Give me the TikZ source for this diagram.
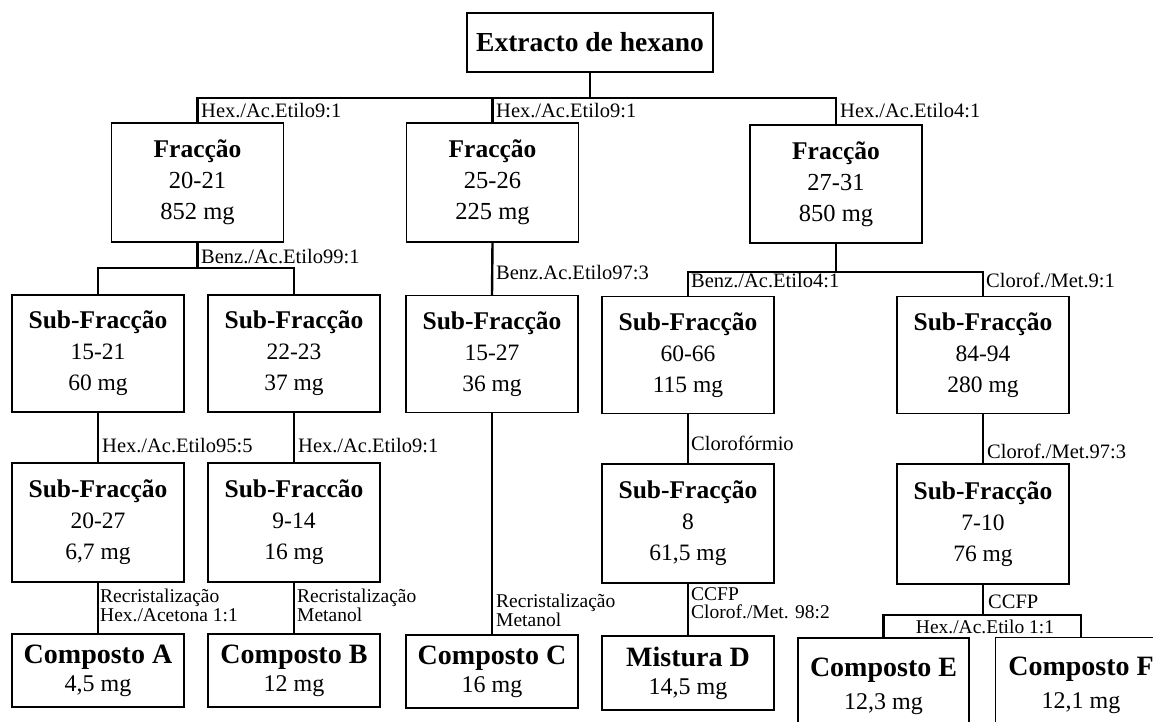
\documentclass[tikz,border=0pt]{standalone}
\usepackage{fontspec}
\setmainfont{Liberation Serif}
\begin{document}
\tikzset{
  box/.style={draw, line width=1.2pt, inner sep=0pt, align=center},
  rowa/.style={box, minimum width=172pt, minimum height=119pt, font=\fontsize{24.5}{31}\selectfont},
  rowb/.style={box, minimum width=172pt, minimum height=117pt, font=\fontsize{23.5}{31}\selectfont},
  fin/.style={box, minimum width=172pt, minimum height=73pt, font=\fontsize{24}{28}\selectfont},
  finb/.style={box, minimum width=171pt, minimum height=96pt, font=\fontsize{24}{33}\selectfont},
  conn/.style={line width=2.4pt},
  lab/.style={inner sep=0pt, anchor=base west, font=\fontsize{20.5}{20}\selectfont},
  labs/.style={inner sep=0pt, anchor=base west, font=\fontsize{19.5}{18}\selectfont},
}
\newcommand{\cmp}[1]{{\fontsize{28}{28}\selectfont\bfseries #1}}
\newcommand{\hdg}[1]{{\fontsize{25.5}{31}\selectfont\bfseries #1}}
\begin{tikzpicture}[x=1pt,y=-1pt]
\useasboundingbox (0,0) rectangle (1153,722);
\fill[white] (0,0) rectangle (1153,722);

% boxes
\node[box, minimum width=246pt, minimum height=59pt, font=\fontsize{27.5}{30}\selectfont\bfseries] (top) at (590,42.5) {Extracto de hexano};

\node[rowa] (f1) at (197.5,182.5) {\hdg{Fracção}\\20-21\\852 mg};
\node[rowa] (f2) at (492.5,182.5) {\hdg{Fracção}\\25-26\\225 mg};
\node[rowa, minimum height=118pt] (f3) at (836,184) {\hdg{Fracção}\\27-31\\850 mg};

\node[rowb] (s1) at (98,353.5) {\hdg{Sub-Fracção}\\15-21\\60 mg};
\node[rowb] (s2) at (294,353.5) {\hdg{Sub-Fracção}\\22-23\\37 mg};
\node[rowb] (s3) at (492,354) {\hdg{Sub-Fracção}\\15-27\\36 mg};
\node[rowb] (s4) at (688,355) {\hdg{Sub-Fracção}\\60-66\\115 mg};
\node[rowb] (s5) at (983,355) {\hdg{Sub-Fracção}\\84-94\\280 mg};

\node[rowb, minimum height=119pt] (t1) at (98,522.5) {\hdg{Sub-Fracção}\\20-27\\6,7 mg};
\node[rowb, minimum height=119pt] (t2) at (294,522.5) {\hdg{Sub-Fraccão}\\9-14\\16 mg};
\node[rowb, minimum height=119pt] (t3) at (688,523.5) {\hdg{Sub-Fracção}\\8\\61,5 mg};
\node[rowb, minimum height=120pt] (t4) at (983,524) {\hdg{Sub-Fracção}\\7-10\\76 mg};

\node[fin] (a) at (98,670.5) {\cmp{Composto A}\\4,5 mg};
\node[fin] (b) at (294,670.5) {\cmp{Composto B}\\12 mg};
\node[fin] (c) at (492,671.5) {\cmp{Composto C}\\16 mg};
\node[fin, minimum height=74pt] (d) at (688,673) {\cmp{Mistura D}\\14,5 mg};
\node[finb] (e) at (883.5,686) {\cmp{Composto E}\\12,3 mg};
\node[finb] (f) at (1081,685.5) {\cmp{Composto F}\\12,1 mg};

% connectors
\coordinate (j0) at (590,98);
\draw[conn] (top.south) -- (j0);
\draw[conn] (f1.north) |- (j0) -| (f3.north);
\draw[conn] (f2.north) -- (f2.north |- j0);

\coordinate (j1) at (197.5,268);
\draw[conn] (f1.south) -- (j1);
\draw[conn] (s1.north) |- (j1) -| (s2.north);
\draw[conn] (f2.south) -- (s3.north);
\coordinate (j2) at (836,272);
\draw[conn] (f3.south) -- (j2);
\draw[conn] (s4.north) |- (j2) -| (s5.north);

\draw[conn] (s1.south) -- (t1.north);
\draw[conn] (s2.south) -- (t2.north);
\draw[conn] (s3.south) -- (c.north);
\draw[conn] (s4.south) -- (t3.north);
\draw[conn] (s5.south) -- (t4.north);

\draw[conn] (t1.south) -- (a.north);
\draw[conn] (t2.south) -- (b.north);
\draw[conn] (t3.south) -- (d.north);
\coordinate (j3) at (983,615);
\draw[conn] (t4.south) -- (j3);
\draw[conn] (e.north) |- (j3) -| (f.north);

% labels
\node[lab] (l1) at (201,118) {Hex./Ac.Etilo9:1};
\node[lab] (l2) at (496,118) {Hex./Ac.Etilo9:1};
\node[lab] (l3) at (840,118) {Hex./Ac.Etilo4:1};
\node[lab] (l4) at (201,263) {Benz./Ac.Etilo99:1};
\node[lab] (l5) at (496,279) {Benz.Ac.Etilo97:3};
\node[lab] (l6) at (691,287) {Benz./Ac.Etilo4:1};
\node[lab] (l7) at (986,287) {Clorof./Met.9:1};
\node[lab] (l8) at (102,452) {Hex./Ac.Etilo95:5};
\node[lab] (l9) at (298,452) {Hex./Ac.Etilo9:1};
\node[lab] (l10) at (691,450) {Clorofórmio};
\node[lab] (l11) at (987,458) {Clorof./Met.97:3};
\node[labs] (l12a) at (100,602) {Recristalização};
\node[labs] (l12b) at (100,621) {Hex./Acetona 1:1};
\node[labs] (l13a) at (297,602) {Recristalização};
\node[labs] (l13b) at (297,621) {Metanol};
\node[labs] (l14a) at (496,607) {Recristalização};
\node[labs] (l14b) at (496,626) {Metanol};
\node[labs] (l15a) at (691,600) {CCFP};
\node[labs] (l15b) at (691,618) {Clorof./Met. 98:2};
\node[lab] (l16) at (988,608) {CCFP};
\node[labs, anchor=base] (l17) at (985,633) {Hex./Ac.Etilo 1:1};
\end{tikzpicture}
\end{document}
